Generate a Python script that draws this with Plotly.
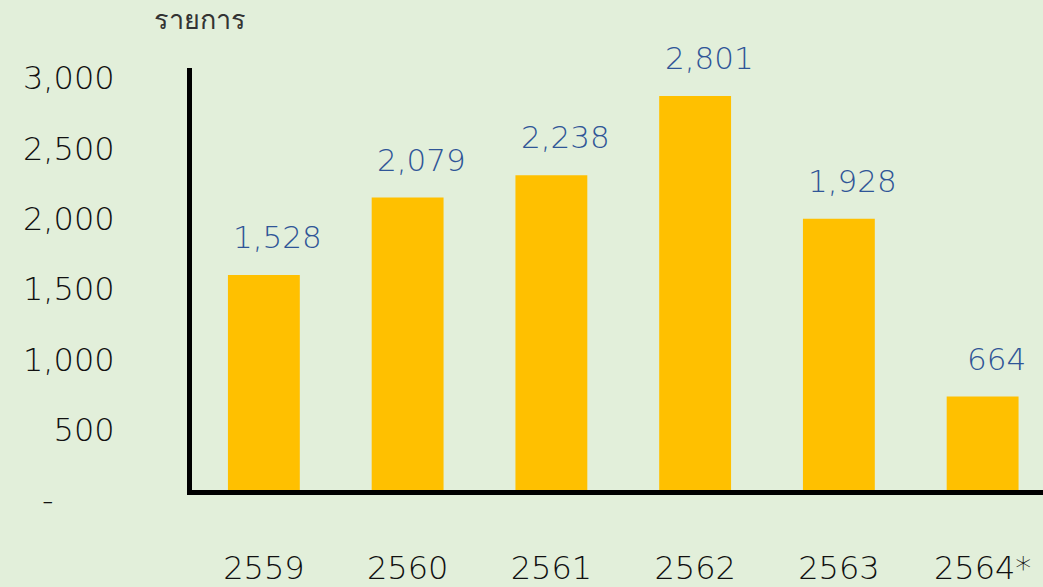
import plotly.graph_objects as go

years = ["2559", "2560", "2561", "2562", "2563", "2564*"]
values = [1528, 2079, 2238, 2801, 1928, 664]
y_tickvals = [0, 500, 1000, 1500, 2000, 2500, 3000]
y_ticktext = ["-" + "\u00a0" * 6, "500", "1,000", "1,500", "2,000", "2,500", "3,000"]
y_title = "รายการ"

BG = "#E2EFDA"
BAR = "#FFC000"
LABEL = "#2F5597"
FONT = "DejaVu Sans, Noto Sans, sans-serif"

W, H = 1043, 587
ML, MR, MT, MB = 192, 0, 68, 97
PW, PH = W - ML - MR, H - MT - MB

fig = go.Figure()
fig.add_trace(go.Bar(
    x=list(range(len(years))), y=values, marker=dict(color=BAR, line=dict(width=0)),
    width=0.5, hoverinfo="skip",
))

for i, v in enumerate(values):
    fig.add_annotation(
        x=i, y=v, text=f"{v:,}", showarrow=False, xanchor="center", yanchor="middle",
        xshift=14, yshift=38, font=dict(size=31, color=LABEL, family=FONT, weight=200),
    )

fig.add_annotation(
    x=(200 - ML) / PW, y=1 + (MT - 20) / PH, xref="paper", yref="paper",
    xanchor="center", yanchor="middle", text=y_title, showarrow=False,
    font=dict(size=27, color="#333333", family=FONT, weight=200),
)

fig.update_layout(
    width=W, height=H,
    paper_bgcolor=BG, plot_bgcolor=BG,
    margin=dict(l=ML, r=MR, t=MT, b=MB, pad=0),
    showlegend=False,
    xaxis=dict(
        range=[-0.5, 5.42], tickmode="array", tickvals=list(range(len(years))), ticktext=years,
        showline=True, linecolor="black", linewidth=5, showgrid=False, zeroline=False,
        ticks="", ticklabelstandoff=46, automargin=False,
        tickfont=dict(size=32, color="#111111", family=FONT, weight=200),
    ),
    yaxis=dict(
        range=[0, 3000], tickmode="array", tickvals=y_tickvals, ticktext=y_ticktext,
        showline=True, linecolor="black", linewidth=5, showgrid=False, zeroline=False,
        ticks="", ticklabelstandoff=66, ticklabelshift=10, automargin=False,
        tickfont=dict(size=32, color="#111111", family=FONT, weight=200),
    ),
)

fig.write_html(
    "out.html",
    config={"displayModeBar": False, "staticPlot": True},
    post_script="document.body.style.margin='0px';document.body.style.overflow='hidden';",
)
